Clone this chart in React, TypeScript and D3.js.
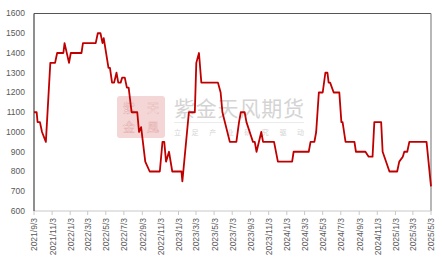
import React from "react";
import * as d3 from "d3";

const dates: string[] = [
  "2021-09-03","2021-09-12","2021-09-15","2021-09-23","2021-09-30","2021-10-13","2021-10-28","2021-11-13","2021-11-20","2021-12-11",
  "2021-12-15","2021-12-30","2022-01-05","2022-02-10","2022-02-15","2022-03-30","2022-04-06","2022-04-15","2022-04-22","2022-04-26",
  "2022-05-12","2022-05-17","2022-05-24","2022-05-31","2022-06-08","2022-06-14","2022-06-22","2022-06-27","2022-07-06","2022-07-13",
  "2022-07-19","2022-07-29","2022-08-17","2022-08-23","2022-08-30","2022-09-13","2022-09-28","2022-11-01","2022-11-10","2022-11-16",
  "2022-11-22","2022-12-02","2022-12-13","2023-01-13","2023-01-16","2023-02-07","2023-02-27","2023-03-04","2023-03-13","2023-03-21",
  "2023-05-16","2023-05-25","2023-05-31","2023-06-25","2023-07-17","2023-07-26","2023-08-01","2023-08-14","2023-08-20","2023-08-31",
  "2023-09-11","2023-09-17","2023-09-23","2023-10-09","2023-10-15","2023-11-21","2023-12-04","2024-01-21","2024-01-26","2024-03-17",
  "2024-03-23","2024-04-05","2024-04-11","2024-04-20","2024-05-03","2024-05-12","2024-05-19","2024-05-23","2024-05-28","2024-06-09",
  "2024-06-28","2024-07-05","2024-07-09","2024-07-19","2024-08-18","2024-08-23","2024-09-24","2024-10-05","2024-10-18","2024-10-24",
  "2024-11-16","2024-11-21","2024-12-14","2025-01-09","2025-01-16","2025-01-28","2025-02-02","2025-02-12","2025-02-19","2025-04-18",
  "2025-05-03"
];

const values: number[] = [
  1100,1100,1050,1050,1000,950,1350,1350,1400,1400,
  1450,1350,1400,1400,1450,1450,1500,1500,1450,1475,
  1325,1325,1250,1250,1300,1250,1250,1275,1275,1225,
  1225,1100,1100,1000,1025,850,800,800,950,950,
  850,900,800,800,750,1100,1100,1350,1400,1250,
  1250,1200,1100,950,950,1050,1100,1100,1050,1000,
  950,950,900,1000,950,950,850,850,900,900,
  950,950,1000,1200,1200,1300,1300,1250,1250,1200,
  1200,1050,1050,950,950,900,900,875,875,1050,
  1050,900,800,800,850,875,900,900,950,950,
  725
];

const yTicks: number[] = [600, 700, 800, 900, 1000, 1100, 1200, 1300, 1400, 1500, 1600];

const xTickLabels: string[] = [
  "2021/9/3","2021/11/3","2022/1/3","2022/3/3","2022/5/3","2022/7/3","2022/9/3","2022/11/3",
  "2023/1/3","2023/3/3","2023/5/3","2023/7/3","2023/9/3","2023/11/3","2024/1/3","2024/3/3",
  "2024/5/3","2024/7/3","2024/9/3","2024/11/3","2025/1/3","2025/3/3","2025/5/3"
];

const stampChars: string[] = ["紫", "天", "金", "風"];

const W = 442, H = 263;
const L = 34, R = 431, T = 13.5, B = 211;

export default function App() {
  const parse = d3.utcParse("%Y-%m-%d");
  const tickParse = d3.utcParse("%Y/%m/%d");
  const x = d3.scaleUtc()
    .domain([parse("2021-09-03") as Date, parse("2025-05-03") as Date])
    .range([L, R]);
  const y = d3.scaleLinear().domain([600, 1600]).range([B, T]);
  const pts: [Date, number][] = dates.map((d, i) => [parse(d) as Date, values[i]]);
  const line = d3.line<[Date, number]>().x(d => x(d[0])).y(d => y(d[1]));
  const font = "'Liberation Sans', Arial, sans-serif";

  return (
    <svg width={W} height={H} style={{ position: "absolute", left: 0, top: 0, background: "#fff" }}>
      {/* watermark */}
      <g>
        <rect x={117} y={96} width={48} height={42} rx={3} fill="#f4d6d6" />
        {stampChars.map((c, i) => (
          <text key={c} x={129 + (i % 2) * 24} y={113 + Math.floor(i / 2) * 19} fontSize={12} fill="#fdf3f3" stroke="#e6b0b0" strokeWidth={0.5} textAnchor="middle" fontFamily="'Noto Sans CJK SC'">{c}</text>
        ))}
        <text x={174} y={116} fontSize={21} fill="#d4d4d4" fontFamily="'Noto Sans CJK SC'" textLength={130}>紫金天风期货</text>
        <line x1={174} x2={304} y1={122.5} y2={122.5} stroke="#e6e6e6" strokeWidth={0.8} />
        <text x={174} y={135} fontSize={7} fill="#d4d4d4" fontFamily="'Noto Sans CJK SC'" textLength={130}>立 足 产 业 研 究 驱 动</text>
      </g>

      {/* frame */}
      <line x1={L} x2={R} y1={T} y2={T} stroke="#555" strokeWidth={1.2} />
      <line x1={R} x2={R} y1={T} y2={B} stroke="#888" strokeWidth={1.2} />
      <line x1={L} x2={R} y1={B} y2={B} stroke="#c8c8c8" strokeWidth={1} />
      <line x1={L} x2={L} y1={T} y2={B} stroke="#444" strokeWidth={1.2} />

      {/* y labels */}
      {yTicks.map(t => (
        <text key={t} x={25} y={y(t)} dy="0.35em" fontSize={8.5} fill="#595959" textAnchor="end" fontFamily={font}>{t}</text>
      ))}

      {/* x ticks & labels */}
      {xTickLabels.map(lbl => {
        const xv = x(tickParse(lbl) as Date);
        return (
          <g key={lbl}>
            <line x1={xv} x2={xv} y1={B} y2={B + 4} stroke="#c8c8c8" strokeWidth={1} />
            <text transform={`translate(${xv + 0.5},${B + 7}) rotate(-90)`} dy="0.35em" fontSize={8.5} fill="#595959" textAnchor="end" fontFamily={font}>{lbl}</text>
          </g>
        );
      })}

      {/* data line */}
      <path d={line(pts) || ""} fill="none" stroke="#c00000" strokeWidth={1.8} strokeLinejoin="round" />
    </svg>
  );
}
